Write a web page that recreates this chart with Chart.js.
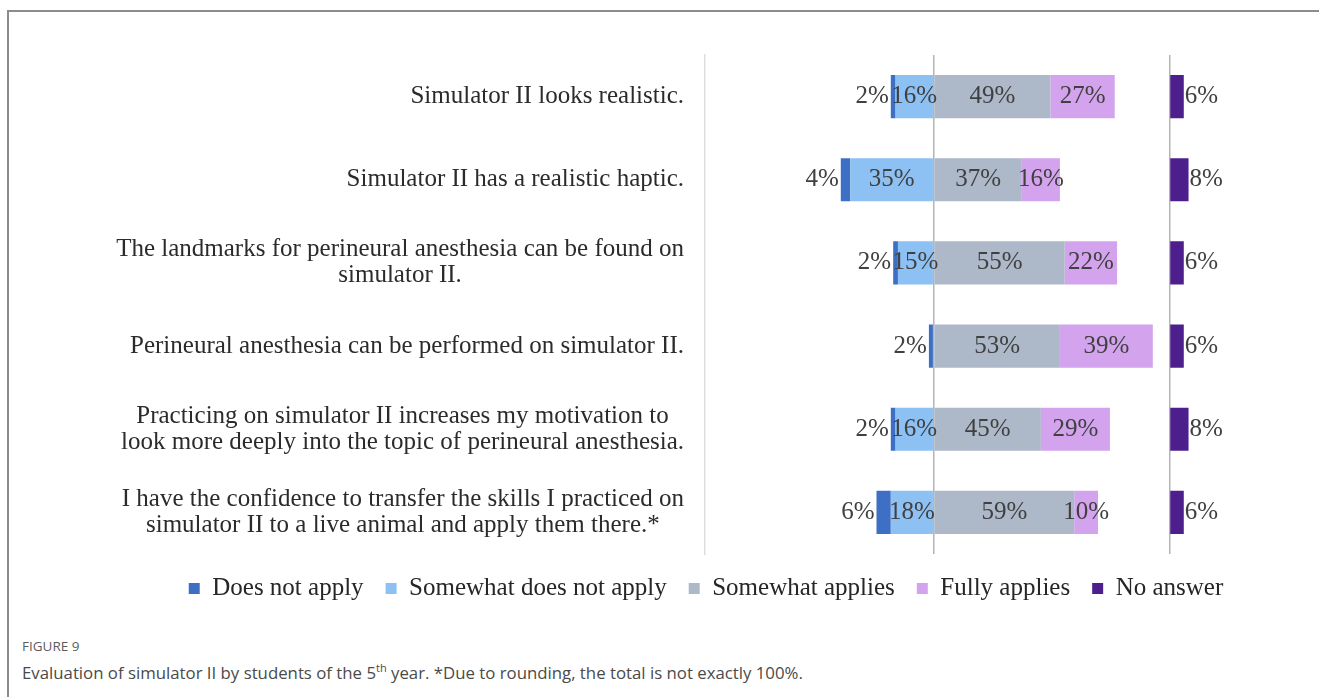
<!DOCTYPE html>
<html>
<head>
<meta charset="utf-8">
<script src="https://cdn.jsdelivr.net/npm/chart.js@4.4.0/dist/chart.umd.min.js"></script>
<style>
html, body { margin: 0; padding: 0; background: #fff; overflow: hidden; }
#frame { position: absolute; left: 7px; top: 10px; width: 1312px; height: 687px;
         border-top: 2px solid #8c8c8c; border-left: 2px solid #8c8c8c; }
#chartBox { position: absolute; left: 0; top: 0; width: 1310px; height: 599px; }
#figLabel { position: absolute; left: 13px; top: 625px; font-family: "Open Sans", sans-serif;
            font-size: 13.5px; color: #5c5c5c; }
#figText { position: absolute; left: 13px; top: 648px; font-family: "Open Sans", sans-serif;
           font-size: 16.8px; color: #4a4a4a; }
#figText sup { font-size: 11px; }
</style>
</head>
<body>
<div id="frame">
  <div id="chartBox"><canvas id="myChart"></canvas></div>
  <div id="figLabel">FIGURE 9</div>
  <div id="figText">Evaluation of simulator II by students of the 5<sup>th</sup> year. *Due to rounding, the total is not exactly 100%.</div>
</div>
<script>
var categories = [
    ['Simulator II looks realistic.'],
    ['Simulator II has a realistic haptic.'],
    ['The landmarks for perineural anesthesia can be found on', 'simulator II.'],
    ['Perineural anesthesia can be performed on simulator II.'],
    ['Practicing on simulator II increases my motivation to', 'look more deeply into the topic of perineural anesthesia.'],
    ['I have the confidence to transfer the skills I practiced on', 'simulator II to a live animal and apply them there.*']
];
var doesNotApply = [2, 4, 2, 2, 2, 6];
var somewhatNotApply = [16, 35, 15, 0, 16, 18];
var somewhatApplies = [49, 37, 55, 53, 45, 59];
var fullyApplies = [27, 16, 22, 39, 29, 10];
var noAnswer = [6, 8, 6, 6, 8, 6];
var seriesNames = ['Does not apply', 'Somewhat does not apply', 'Somewhat applies', 'Fully applies', 'No answer'];
var seriesColors = ['#3D6FC4', '#8DC0F3', '#ADB8C9', '#D3A3EE', '#4C1F8C'];

var serif = '"Liberation Serif", "Times New Roman", serif';

function negate(arr) {
    return arr.map(function (v) { return -v; });
}

function makeDataset(i, data, extra) {
    var ds = {
        label: seriesNames[i],
        data: data,
        backgroundColor: seriesColors[i],
        borderWidth: 0,
        barPercentage: 0.52,
        categoryPercentage: 1
    };
    for (var k in extra) ds[k] = extra[k];
    return ds;
}

// draws the category texts: block right aligned, lines centred in the block
var categoryLabels = {
    id: 'categoryLabels',
    afterDraw: function (chart) {
        var ctx = chart.ctx;
        var yScale = chart.scales.y;
        ctx.save();
        ctx.font = '25px ' + serif;
        ctx.fillStyle = '#2b2b2b';
        ctx.textAlign = 'center';
        ctx.textBaseline = 'middle';
        var lineHeight = 26;
        categories.forEach(function (lines, i) {
            var y = yScale.getPixelForValue(i);
            var blockWidth = Math.max.apply(null, lines.map(function (l) { return ctx.measureText(l).width; }));
            var cx = yScale.right - 21 - blockWidth / 2;
            var top = y - (lines.length - 1) * lineHeight / 2;
            lines.forEach(function (line, j) {
                ctx.fillText(line, cx, top + j * lineHeight);
            });
        });
        ctx.restore();
    }
};

// percentage labels on the bars
var valueLabels = {
    id: 'valueLabels',
    afterDatasetsDraw: function (chart) {
        var ctx = chart.ctx;
        ctx.save();
        ctx.font = '25px ' + serif;
        ctx.fillStyle = '#404040';
        ctx.textBaseline = 'middle';
        chart.data.datasets.forEach(function (ds, di) {
            var meta = chart.getDatasetMeta(di);
            meta.data.forEach(function (bar, i) {
                var v = Math.abs(ds.data[i]);
                if (!v) return;
                var text = v + '%';
                if (ds.labelPos === 'start') {
                    ctx.textAlign = 'right';
                    ctx.fillText(text, Math.min(bar.x, bar.base) - 2, bar.y);
                } else if (ds.labelPos === 'end') {
                    ctx.textAlign = 'left';
                    ctx.fillText(text, Math.max(bar.x, bar.base) + 1, bar.y);
                } else {
                    ctx.textAlign = 'center';
                    ctx.fillText(text, (bar.x + bar.base) / 2, bar.y);
                }
            });
        });
        ctx.restore();
    }
};

function onlyZero(scale) {
    scale.ticks = [{ value: 0 }];
}

var ctx = document.getElementById('myChart').getContext('2d');
var myChart = new Chart(ctx, {
    type: 'bar',
    data: {
        labels: categories,
        datasets: [
            makeDataset(0, negate(doesNotApply), { order: 1, labelPos: 'start' }),
            makeDataset(1, negate(somewhatNotApply), { order: 0 }),
            makeDataset(2, somewhatApplies, { order: 0 }),
            makeDataset(3, fullyApplies, { order: 0 }),
            makeDataset(4, noAnswer, { order: 0, xAxisID: 'x2', labelPos: 'end' })
        ]
    },
    options: {
        indexAxis: 'y',
        responsive: true,
        maintainAspectRatio: false,
        animation: false,
        layout: { padding: { top: 43, left: 143, right: 59, bottom: 0 } },
        plugins: {
            legend: {
                position: 'bottom',
                labels: {
                    boxWidth: 11,
                    boxHeight: 11,
                    padding: 22,
                    color: '#262626',
                    font: { family: serif, size: 25 },
                    sort: function (a, b) { return a.datasetIndex - b.datasetIndex; }
                }
            },
            tooltip: { enabled: false }
        },
        scales: {
            x: {
                type: 'linear', min: -96, max: 99, stacked: true,
                position: 'bottom', stack: 'bottom', stackWeight: 195, z: 1,
                ticks: { display: false },
                border: { display: false },
                grid: { color: '#b4b4b4', lineWidth: 1.5, drawTicks: false },
                afterBuildTicks: onlyZero
            },
            x2: {
                type: 'linear', min: 0, max: 38, stacked: true,
                position: 'bottom', stack: 'bottom', stackWeight: 38, z: 1,
                ticks: { display: false },
                border: { display: false },
                grid: { color: '#b4b4b4', lineWidth: 1.5, drawTicks: false },
                afterBuildTicks: onlyZero
            },
            y: {
                stacked: true,
                grid: { display: false },
                border: { color: '#dedede', width: 1.5 },
                ticks: { display: false },
                afterFit: function (scale) { scale.width = 553; }
            }
        }
    },
    plugins: [valueLabels, categoryLabels]
});
</script>
</body>
</html>
